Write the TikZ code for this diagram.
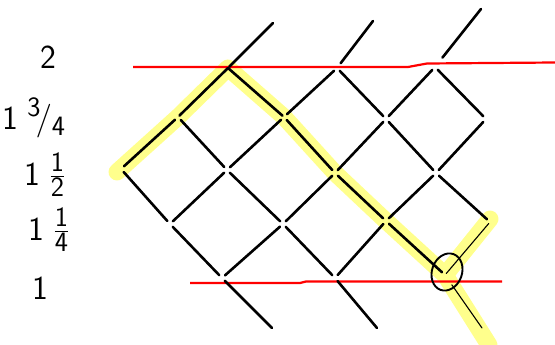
\documentclass[tikz,border=0pt]{standalone}
\usetikzlibrary{shapes.geometric}
\definecolor{hlyellow}{rgb}{1,1,0.55}
\newcommand{\biglab}[1]{\scalebox{1.35}{#1}}
\tikzset{
  lat/.style={line width=2.6pt, line cap=round, shorten >=4pt, shorten <=4pt},
  latfull/.style={line width=2.6pt, line cap=round},
  thinlat/.style={line width=1.1pt, line cap=round, shorten >=2pt, shorten <=2pt},
  hl/.style={line width=17pt, draw=hlyellow, line cap=round, line join=round},
  redline/.style={line width=2.2pt, draw=red},
  lab/.style={font=\fontsize{24.88}{28}\selectfont, inner sep=0pt}
}
\begin{document}
\begin{tikzpicture}[x=1pt,y=-1pt]
\useasboundingbox (0,0) rectangle (555,345);
% lattice points
\coordinate (A0) at (228,68);
\coordinate (B0) at (337,68);
\coordinate (C0) at (435,67);
\coordinate (A1) at (178,117);
\coordinate (B1) at (284,117);
\coordinate (C1) at (386,119);
\coordinate (D1) at (486,119);
\coordinate (A2) at (121,169);
\coordinate (B2) at (227,170);
\coordinate (C2) at (335,173);
\coordinate (D2) at (436,173);
\coordinate (A3) at (170,224);
\coordinate (B3) at (283,224);
\coordinate (C3) at (386,221);
\coordinate (D3) at (490,222);
\coordinate (A4) at (222,278);
\coordinate (B4) at (335,278);
\coordinate (C4) at (445,275);
\coordinate (T1) at (273,23);
\coordinate (T2) at (373,21);
\coordinate (T3) at (481,9);
\coordinate (E1) at (272,328);
\coordinate (E2) at (377,328);
\coordinate (E3) at (482,328);
\coordinate (HS) at (117,172);
\coordinate (HE) at (489,345);
\coordinate (HD) at (490,219);
% highlight
\draw[hl] (HS) -- (A1) -- (A0) -- (B1) -- (C2) -- (C3) -- (C4) -- (HE);
\draw[hl] (C4) -- (HD);
% red lines
\coordinate (R1a) at (133,67);
\coordinate (R1b) at (408,67);
\coordinate (R1c) at (427,63.5);
\coordinate (R1d) at (555,62.5);
\draw[redline] (R1a) -- (R1b) -- (R1c) -- (R1d);
\coordinate (R2a) at (190,283);
\coordinate (R2b) at (300,283);
\coordinate (R2c) at (306,281.5);
\coordinate (R2d) at (502,281.5);
\draw[redline] (R2a) -- (R2b) -- (R2c) -- (R2d);
% top extensions
\draw[latfull, shorten <=2pt] (A0) -- (T1);
\draw[latfull, shorten <=6pt] (B0) -- (T2);
\draw[latfull, shorten <=12pt] (C0) -- (T3);
% level 0 -> 1
\draw[latfull, shorten >=2pt] (A0) -- (A1);
\draw[latfull, shorten >=2pt] (A0) -- (B1);
\draw[lat] (B0) -- (B1);
\draw[lat] (B0) -- (C1);
\draw[lat] (C0) -- (C1);
\draw[lat] (C0) -- (D1);
% level 1 -> 2
\draw[lat] (A1) -- (A2);
\draw[lat] (A1) -- (B2);
\draw[lat] (B1) -- (B2);
\draw[lat] (B1) -- (C2);
\draw[lat] (C1) -- (C2);
\draw[lat] (C1) -- (D2);
\draw[lat] (D1) -- (D2);
% level 2 -> 3
\draw[lat] (A2) -- (A3);
\draw[lat] (B2) -- (A3);
\draw[lat] (B2) -- (B3);
\draw[lat] (C2) -- (B3);
\draw[lat] (C2) -- (C3);
\draw[lat] (D2) -- (C3);
\draw[lat] (D2) -- (D3);
% level 3 -> 4
\draw[lat] (A3) -- (A4);
\draw[lat] (B3) -- (A4);
\draw[lat] (B3) -- (B4);
\draw[lat] (C3) -- (B4);
\draw[lat] (C3) -- (C4);
\draw[thinlat] (D3) -- (C4);
% bottom extensions
\draw[lat, shorten >=0pt] (A4) -- (E1);
\draw[lat, shorten >=0pt] (B4) -- (E2);
\draw[thinlat, shorten <=12pt, shorten >=0pt] (C4) -- (E3);
% circle
\node[draw, line width=1.9pt, ellipse, minimum width=30pt, minimum height=38pt, rotate=-20, inner sep=0pt] (circ) at (447,272) {};
% labels
\node[lab] (l2) at (48,57) {\biglab{$\mathsf{2}$}};
\node[lab] (l34) at (34,118) {\biglab{$\mathsf{1\;{}^{3}\!/{}_{4}}$}};
\node[lab] (l12) at (45,175) {\biglab{$\mathsf{1\;\frac{1}{2}}$}};
\node[lab] (l14) at (49,230) {\biglab{$\mathsf{1\;\frac{1}{4}}$}};
\node[lab] (l1) at (40,288) {\biglab{$\mathsf{1}$}};
\end{tikzpicture}
\end{document}
